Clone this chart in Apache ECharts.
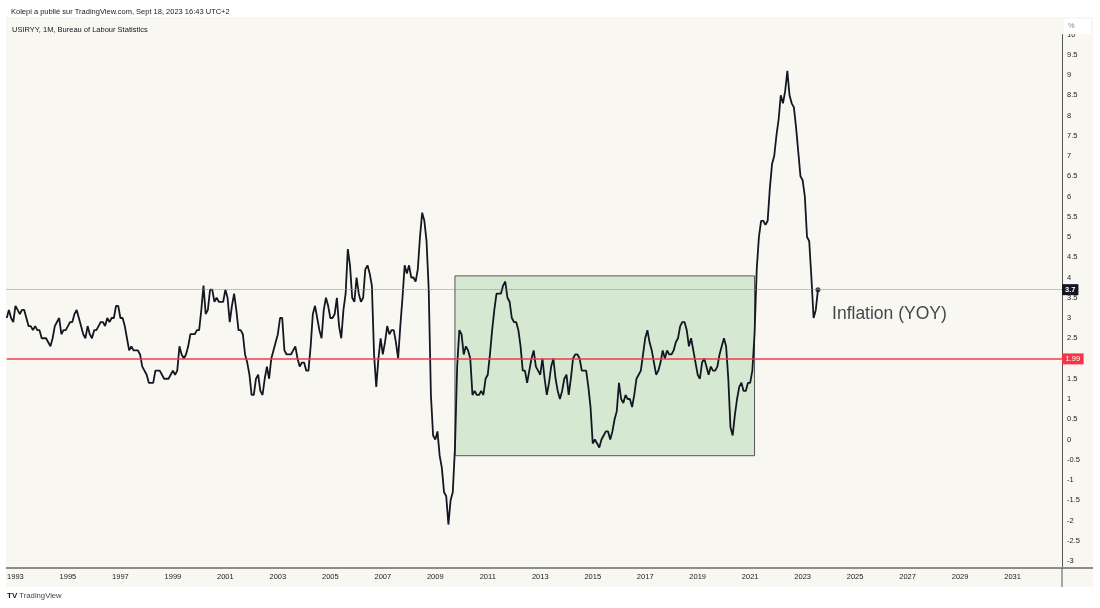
<!DOCTYPE html>
<html><head><meta charset="utf-8">
<script src="https://cdn.jsdelivr.net/npm/echarts@6/dist/echarts.min.js"></script>
<style>html,body{margin:0;padding:0;background:#fff}#c{width:1100px;height:608px}</style>
</head><body><div id="c"></div>
<script>
// US CPI YoY (%), monthly, first value = Sep 1992
const startYear = 1992, startMonth = 9;
const yoy = [
  3.0, 3.2, 3.0, 2.9,
  3.3, 3.2, 3.1, 3.2, 3.2, 3.0, 2.8, 2.8, 2.7, 2.8, 2.7, 2.7,
  2.5, 2.5, 2.5, 2.4, 2.3, 2.5, 2.8, 2.9, 3.0, 2.6, 2.7, 2.7,
  2.8, 2.9, 2.9, 3.1, 3.2, 3.0, 2.8, 2.6, 2.5, 2.8, 2.6, 2.5,
  2.7, 2.7, 2.8, 2.9, 2.9, 2.8, 3.0, 2.9, 3.0, 3.0, 3.3, 3.3,
  3.0, 3.0, 2.8, 2.5, 2.2, 2.3, 2.2, 2.2, 2.2, 2.1, 1.8, 1.7,
  1.6, 1.4, 1.4, 1.4, 1.7, 1.7, 1.7, 1.6, 1.5, 1.5, 1.5, 1.6,
  1.7, 1.6, 1.7, 2.3, 2.1, 2.0, 2.1, 2.3, 2.6, 2.6, 2.6, 2.7,
  2.7, 3.2, 3.8, 3.1, 3.2, 3.7, 3.7, 3.4, 3.5, 3.4, 3.4, 3.4,
  3.7, 3.5, 2.9, 3.3, 3.6, 3.2, 2.7, 2.7, 2.6, 2.1, 1.9, 1.6,
  1.1, 1.1, 1.5, 1.6, 1.2, 1.1, 1.5, 1.8, 1.5, 2.0, 2.2, 2.4,
  2.6, 3.0, 3.0, 2.2, 2.1, 2.1, 2.1, 2.2, 2.3, 2.0, 1.8, 1.9,
  1.9, 1.7, 1.7, 2.3, 3.1, 3.3, 3.0, 2.7, 2.5, 3.2, 3.5, 3.3,
  3.0, 3.0, 3.1, 3.5, 2.8, 2.5, 3.2, 3.6, 4.7, 4.3, 3.5, 3.4,
  4.0, 3.6, 3.4, 3.5, 4.2, 4.3, 4.1, 3.8, 2.1, 1.3, 2.0, 2.5,
  2.1, 2.4, 2.8, 2.6, 2.7, 2.7, 2.4, 2.0, 2.8, 3.5, 4.3, 4.1,
  4.3, 4.0, 4.0, 3.9, 4.2, 5.0, 5.6, 5.4, 4.9, 3.7, 1.1, 0.1,
  0.0, 0.2, -0.4, -0.7, -1.3, -1.4, -2.1, -1.5, -1.3, -0.2, 1.8, 2.7,
  2.6, 2.1, 2.3, 2.2, 2.0, 1.1, 1.2, 1.1, 1.1, 1.2, 1.1, 1.5,
  1.6, 2.1, 2.7, 3.2, 3.6, 3.6, 3.6, 3.8, 3.9, 3.5, 3.4, 3.0,
  2.9, 2.9, 2.7, 2.3, 1.7, 1.7, 1.4, 1.7, 2.0, 2.2, 1.8, 1.7,
  1.6, 2.0, 1.5, 1.1, 1.4, 1.8, 2.0, 1.5, 1.2, 1.0, 1.2, 1.5,
  1.6, 1.1, 1.5, 2.0, 2.1, 2.1, 2.0, 1.7, 1.7, 1.7, 1.3, 0.8,
  -0.1, 0.0, -0.1, -0.2, 0.0, 0.1, 0.2, 0.2, 0.0, 0.2, 0.5, 0.7,
  1.4, 1.0, 0.9, 1.1, 1.0, 1.0, 0.8, 1.1, 1.5, 1.6, 1.7, 2.1,
  2.5, 2.7, 2.4, 2.2, 1.9, 1.6, 1.7, 1.9, 2.2, 2.0, 2.2, 2.1,
  2.1, 2.2, 2.4, 2.5, 2.8, 2.9, 2.9, 2.7, 2.3, 2.5, 2.2, 1.9,
  1.6, 1.5, 1.9, 2.0, 1.8, 1.6, 1.8, 1.7, 1.7, 1.8, 2.1, 2.3,
  2.5, 2.3, 1.5, 0.3, 0.1, 0.6, 1.0, 1.3, 1.4, 1.2, 1.2, 1.4,
  1.4, 1.7, 2.6, 4.2, 5.0, 5.4, 5.4, 5.3, 5.4, 6.2, 6.8, 7.0,
  7.5, 7.9, 8.5, 8.3, 8.6, 9.1, 8.5, 8.3, 8.2, 7.7, 7.1, 6.5,
  6.4, 6.0, 5.0, 4.9, 4.0, 3.0, 3.2, 3.7
];
const xTicks = [1993,1995,1997,1999,2001,2003,2005,2007,2009,2011,2013,2015,2017,2019,2021,2023,2025,2027,2029,2031];
const yTicks = [-3,-2.5,-2,-1.5,-1,-0.5,0,0.5,1,1.5,2,2.5,3,3.5,4,4.5,5,5.5,6,6.5,7,7.5,8,8.5,9,9.5,10];
const redLevel = 1.99;
const lastLevel = 3.7;
const boxFrom = [2009, 10], boxTo = [2021, 3];
const boxHigh = 4.04, boxLow = -0.40;
const annotationText = 'Inflation (YOY)';
const annotationAt = [2024.12, 3.1];
const headerText = 'Kolepi a publié sur TradingView.com, Sept 18, 2023 16:43 UTC+2';
const symbolText = 'USIRYY, 1M, Bureau of Labour Statistics';

const toT = (y, m) => y + (m - 1) / 12;
const series = yoy.map((v, i) => {
  const mIdx = startMonth - 1 + i;
  return [startYear + Math.floor(mIdx / 12) + (mIdx % 12) / 12, v];
});
const lastPt = series[series.length - 1];

const FONT = 'Liberation Sans';
const chart = echarts.init(document.getElementById('c'), null, {renderer: 'canvas'});
chart.setOption({
  backgroundColor: '#ffffff',
  animation: false,
  textStyle: {fontFamily: FONT},
  title: [
    {text: headerText, left: 6, top: 3, textStyle: {fontSize: 7.5, fontWeight: 'normal', color: '#222', fontFamily: FONT}},
    {text: symbolText, left: 7, top: 21, textStyle: {fontSize: 7.5, fontWeight: 'normal', color: '#131722', fontFamily: FONT}}
  ],
  grid: {left: 6.7, right: 38, top: 34.5, bottom: 40, containLabel: false},
  xAxis: {
    type: 'value',
    min: toT(1992, 9), max: 2032.884,
    axisLine: {show: true, onZero: false, lineStyle: {color: '#8c8c8c', width: 2}},
    axisTick: {show: false},
    splitLine: {show: false},
    axisLabel: {customValues: xTicks, formatter: v => String(Math.round(v)), fontSize: 7.5, color: '#222', margin: 5, fontFamily: FONT}
  },
  yAxis: {
    type: 'value', position: 'right',
    min: -3.1728, max: 10,
    axisLine: {show: true, onZero: false, lineStyle: {color: '#555', width: 1}},
    axisTick: {show: false},
    splitLine: {show: false},
    axisLabel: {customValues: yTicks, fontSize: 7.5, color: '#222', margin: 5, fontFamily: FONT}
  },
  graphic: [
    {type: 'rect', z: -10, silent: true, shape: {x: 6, y: 17, width: 1087, height: 570}, style: {fill: '#f8f7f2'}},
    {type: 'line', z: 1, silent: true, shape: {x1: 1062, y1: 568, x2: 1093, y2: 568}, style: {stroke: '#8c8c8c', lineWidth: 2}},
    {type: 'line', z: 1, silent: true, shape: {x1: 1062, y1: 568, x2: 1062, y2: 587}, style: {stroke: '#555', lineWidth: 1}},
    {type: 'rect', z: 100, silent: true, shape: {x: 1064, y: 19, width: 27, height: 15, r: 2}, style: {fill: '#ffffff'}},
    {type: 'text', z: 101, silent: true, x: 1068, y: 22, style: {text: '%', fontSize: 7.5, fill: '#888', fontFamily: FONT}},
    {type: 'text', z: 1, silent: true, x: 7, y: 592, style: {text: '{logo|TV} TradingView', fontSize: 7.7, fill: '#444', fontFamily: FONT,
      rich: {logo: {fontSize: 8, fontWeight: 'bold', fill: '#131722', fontFamily: FONT}}}}
  ],
  series: [
    {
      type: 'line', data: [], z: 1, silent: true,
      markArea: {
        silent: true,
        itemStyle: {color: 'rgba(76,175,80,0.2)', borderColor: '#555', borderWidth: 1},
        data: [[{coord: [toT(boxFrom[0], boxFrom[1]), boxHigh]}, {coord: [toT(boxTo[0], boxTo[1]), boxLow]}]]
      }
    },
    {
      type: 'line', data: series, z: 3, showSymbol: false, silent: true,
      lineStyle: {color: '#131722', width: 1.8},
      markLine: {
        silent: true, symbol: ['none', 'none'],
        data: [
          {yAxis: redLevel, lineStyle: {color: 'rgba(242,54,69,0.72)', width: 2, type: 'solid'},
            label: {show: true, position: 'end', distance: 0, formatter: String(redLevel), color: '#fff', backgroundColor: '#f23645',
              padding: [2, 3.5, 1, 3.5], fontSize: 7.5, fontFamily: FONT}},
          {yAxis: lastLevel, lineStyle: {color: '#8d8f96', width: 1, type: 'dotted'},
            label: {show: true, position: 'end', distance: 0, formatter: String(lastLevel), color: '#fff', backgroundColor: '#131722',
              padding: [2, 3, 1, 3], fontSize: 7.5, fontWeight: 'bold', fontFamily: FONT}}
        ]
      }
    },
    {
      type: 'scatter', data: [lastPt], z: 4, silent: true, symbol: 'circle', symbolSize: 5,
      itemStyle: {color: '#131722'}
    },
    {
      type: 'scatter', data: [annotationAt], z: 4, silent: true, symbolSize: 0,
      label: {show: true, position: 'right', distance: 0, formatter: annotationText, fontSize: 17.5, color: '#131722', fontFamily: FONT}
    }
  ]
});
</script>
</body></html>
